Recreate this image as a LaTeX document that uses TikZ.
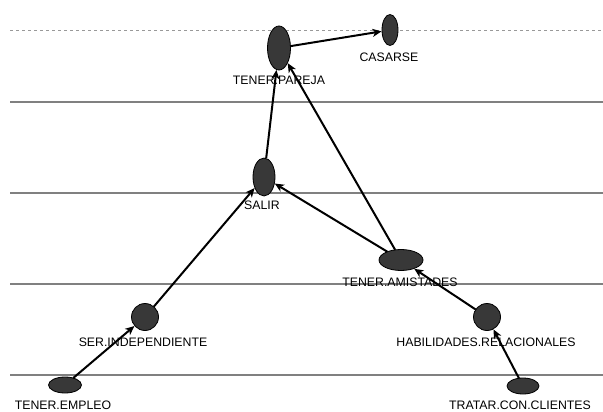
\documentclass[tikz,border=0pt]{standalone}
\usepackage{fontspec}
\setmainfont{Liberation Sans}
\usetikzlibrary{arrows.meta,shapes.geometric}
\begin{document}
\begin{tikzpicture}[x=1pt,y=-1pt,
  vert/.style={ellipse,draw=black,line width=0.8pt,fill=black!78,inner sep=0pt,outer sep=0pt},
  lbl/.style={inner sep=0pt,font=\fontsize{12.3}{14}\selectfont},
  level/.style={draw=black!50,line width=1.8pt},
  toplevel/.style={draw=black!40,line width=0.6pt,dash pattern=on 3pt off 3pt},
  edge/.style={draw=black,line width=2pt,-{Stealth[length=9pt,width=8pt,inset=2.5pt]},shorten >=0.5pt}]
\useasboundingbox (0,0) rectangle (603,412);
\fill[white] (0,0) rectangle (603,412);
% level lines
\coordinate (d0) at (10,30); \coordinate (d1) at (603,30);
\coordinate (l1a) at (10,102); \coordinate (l1b) at (603,102);
\coordinate (l2a) at (10,193); \coordinate (l2b) at (603,193);
\coordinate (l3a) at (10,284); \coordinate (l3b) at (603,284);
\coordinate (l4a) at (10,375); \coordinate (l4b) at (603,375);
\draw[toplevel] (d0) -- (d1);
\draw[level] (l1a) -- (l1b);
\draw[level] (l2a) -- (l2b);
\draw[level] (l3a) -- (l3b);
\draw[level] (l4a) -- (l4b);
% nodes
\node[vert,minimum width=23pt,minimum height=44pt] (pareja) at (279,48) {};
\node[vert,minimum width=16pt,minimum height=31pt] (casarse) at (390,30) {};
\node[vert,minimum width=22pt,minimum height=38pt] (salir) at (264,177) {};
\node[vert,minimum width=44pt,minimum height=21pt] (amist) at (401,260) {};
\node[vert,minimum width=27pt,minimum height=27pt] (habil) at (487,317) {};
\node[vert,minimum width=27pt,minimum height=27pt] (indep) at (145,317) {};
\node[vert,minimum width=33pt,minimum height=16pt] (empleo) at (65,385) {};
\node[vert,minimum width=32pt,minimum height=16pt] (clientes) at (523,386) {};
% labels
\node[lbl] (tpareja) at (279,80) {TENER.PAREJA};
\node[lbl] (tcasarse) at (389,57) {CASARSE};
\node[lbl] (tsalir) at (262,205) {SALIR};
\node[lbl] (tamist) at (400,282) {TENER.AMISTADES};
\node[lbl] (thabil) at (486,342) {HABILIDADES.RELACIONALES};
\node[lbl] (tindep) at (143,342) {SER.INDEPENDIENTE};
\node[lbl] (templeo) at (63,405) {TENER.EMPLEO};
\node[lbl] (tclientes) at (520,405) {TRATAR.CON.CLIENTES};
% edges
\draw[edge] (pareja) -- (casarse);
\draw[edge] (salir) -- (pareja);
\draw[edge] (amist) -- (pareja);
\draw[edge] (amist) -- (salir);
\draw[edge] (indep) -- (salir);
\draw[edge] (empleo) -- (indep);
\draw[edge] (habil) -- (amist);
\draw[edge] (clientes) -- (habil);
\end{tikzpicture}
\end{document}
